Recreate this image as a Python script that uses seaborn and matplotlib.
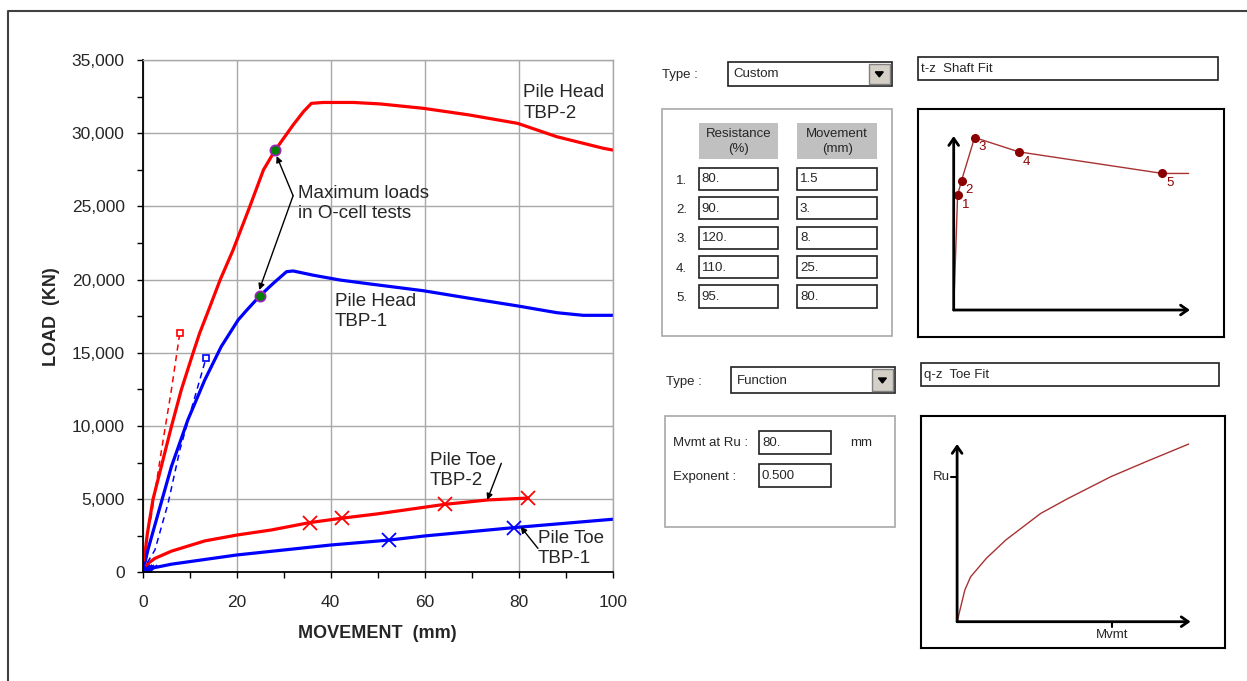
import matplotlib
matplotlib.use("Agg")
import matplotlib.pyplot as plt
from matplotlib.patches import Rectangle, Polygon
from matplotlib.ticker import MultipleLocator, FuncFormatter
import seaborn as sns

# ---- main chart data: movement (mm) vs load (kN) ----
head_tbp2_mm = [0, 1.0, 2.2, 6.1, 8.2, 10.7, 12.1, 14.0, 16.5, 19.2, 22.8, 25.7, 28.2,
                32.0, 34.2, 35.9, 38.4, 44.8, 50.5, 59.7, 69.6, 79.8, 88.1, 98.0, 100]
head_tbp2_kn = [0, 2670, 5000, 9950, 12460, 14970, 16330, 17900, 20000, 22000, 25000, 27500, 28850,
                30560, 31470, 32040, 32100, 32100, 32000, 31700, 31240, 30670, 29760, 28970, 28850]

head_tbp1_mm = [0, 1.1, 3.3, 6.1, 9.6, 13.2, 16.7, 20.3, 22.1, 24.9, 27.8, 30.6, 32.0,
                36.3, 42.0, 48.4, 59.7, 69.6, 79.8, 88.1, 93.7, 100]
head_tbp1_kn = [0, 1530, 4040, 7220, 10410, 13140, 15420, 17240, 17900, 18880, 19750, 20540, 20590,
                20300, 19970, 19700, 19240, 18720, 18200, 17740, 17560, 17560]

test_tbp2_mm = [0, 1.0, 1.8, 4.0, 6.1, 7.9]
test_tbp2_kn = [0, 2700, 3800, 8360, 12460, 16370]
test_tbp1_mm = [0, 0.3, 2.6, 5.4, 7.9, 10.3, 13.5]
test_tbp1_kn = [0, 300, 1530, 4720, 8360, 11090, 14670]

toe_tbp2_mm = [0, 1.1, 2.55, 6.1, 13.2, 20.0, 27.4, 35.5, 42.3, 50.0, 64.3, 73.5, 82.0]
toe_tbp2_kn = [0, 600, 950, 1450, 2150, 2550, 2900, 3400, 3700, 4000, 4650, 4950, 5080]
toe_tbp1_mm = [0, 1.8, 6.1, 20.0, 40.0, 52.5, 60.0, 79.0, 100]
toe_tbp1_kn = [0, 280, 560, 1190, 1870, 2210, 2490, 3060, 3630]

toe_tbp2_x_mm = [0, 0.4, 35.5, 42.3, 64.3, 82.0]
toe_tbp2_x_kn = [0, 0, 3400, 3700, 4650, 5080]
toe_tbp1_x_mm = [0, 0.5, 1.0, 1.5, 52.5, 79.0]
toe_tbp1_x_kn = [0, 0, 0, 0, 2210, 3060]

max_load_mm = [28.2, 24.9]
max_load_kn = [28850, 18880]

# ---- form panel data ----
shaft_resistance = [80, 90, 120, 110, 95]   # %
shaft_movement = [1.5, 3, 8, 25, 80]        # mm
shaft_end_mm = 90
toe_mvmt_at_ru = 80.
toe_exponent = 0.500
toe_curve_mm = [0, 4.0, 7.0, 15.1, 25.1, 43.2, 57.3, 79.4, 97.5, 119.6]
toe_curve_ru = [0, 0.219, 0.310, 0.437, 0.563, 0.747, 0.850, 1.0, 1.103, 1.225]

sns.set_style("white")
plt.rcParams["font.family"] = ["Liberation Sans", "DejaVu Sans"]

W, H = 1247, 681
fig = plt.figure(figsize=(W / 100, H / 100), dpi=100)


def box(x0, y0, x1, y1):
    return [x0 / W, 1 - y1 / H, (x1 - x0) / W, (y1 - y0) / H]


# overlay in pixel units for the frame and the form widgets
ui = fig.add_axes([0, 0, 1, 1])
ui.set_xlim(0, W)
ui.set_ylim(H, 0)
ui.axis("off")
ui.plot([8, 8, W + 5], [H + 5, 11, 11], color="#404040", lw=1.5)

# ---------------- main load-movement chart ----------------
ax = fig.add_axes(box(142.7, 60, 612.7, 572.4))
red, blue = "#ff0000", "#0000ff"
curves = [
    (head_tbp2_mm, head_tbp2_kn, red, "-", 2.3),
    (head_tbp1_mm, head_tbp1_kn, blue, "-", 2.3),
    (toe_tbp2_mm, toe_tbp2_kn, red, "-", 2.3),
    (toe_tbp1_mm, toe_tbp1_kn, blue, "-", 2.3),
    (test_tbp2_mm, test_tbp2_kn, red, (0, (4, 3)), 1.1),
    (test_tbp1_mm, test_tbp1_kn, blue, (0, (4, 3)), 1.1),
]
for xs, ys, c, ls, lw in curves:
    sns.lineplot(x=xs, y=ys, color=c, linestyle=ls, lw=lw, sort=False,
                 estimator=None, ax=ax)

ax.plot(test_tbp2_mm[-1:], test_tbp2_kn[-1:], "s", ms=5, mfc="white", mec=red, mew=1.2)
ax.plot(test_tbp1_mm[-1:], test_tbp1_kn[-1:], "s", ms=5, mfc="white", mec=blue, mew=1.2)
ax.plot(toe_tbp2_x_mm, toe_tbp2_x_kn, "x", ms=10, mec=red, mew=1.3, ls="none")
ax.plot(toe_tbp1_x_mm, toe_tbp1_x_kn, "x", ms=10, mec=blue, mew=1.3, ls="none")
sns.scatterplot(x=max_load_mm, y=max_load_kn, color="#008000", edgecolor="#a020c0",
                s=55, linewidth=1.2, zorder=5, ax=ax)

ax.set_xlim(0, 100)
ax.set_ylim(0, 35000)
ax.xaxis.set_major_locator(MultipleLocator(20))
ax.xaxis.set_minor_locator(MultipleLocator(10))
ax.yaxis.set_major_locator(MultipleLocator(5000))
ax.yaxis.set_minor_locator(MultipleLocator(2500))
ax.yaxis.set_major_formatter(FuncFormatter(lambda v, p: f"{v:,.0f}"))
ax.grid(True, which="major", color="#a8a8a8", lw=1)
ax.set_axisbelow(True)
ax.tick_params(which="both", direction="out", length=4, width=1, color="black",
               labelsize=12.5, left=True, bottom=True)
ax.tick_params(axis="y", pad=9)
ax.tick_params(axis="x", pad=12)
for side in ["left", "bottom"]:
    ax.spines[side].set_color("black")
    ax.spines[side].set_linewidth(1.3)
for side in ["top", "right"]:
    ax.spines[side].set_color("#a8a8a8")
    ax.spines[side].set_linewidth(1)

ax.set_xlabel("MOVEMENT  (mm)", fontsize=13, fontweight="bold")
ax.set_ylabel("LOAD  (KN)", fontsize=13, fontweight="bold")
ax.xaxis.set_label_coords(0.5, -0.119)
ax.xaxis.label.set_va("center")
ax.yaxis.set_label_coords(-0.193, 0.5)
ax.yaxis.label.set_va("center")

lab = dict(fontsize=13.5, va="center", ha="left", linespacing=1.25)
ax.text(81.0, 32070, "Pile Head\nTBP-2", **lab)
ax.text(40.9, 17800, "Pile Head\nTBP-1", **lab)
ax.text(61.1, 6940, "Pile Toe\nTBP-2", **lab)
ax.text(84.1, 1620, "Pile Toe\nTBP-1", **lab)
ax.text(33.1, 25180, "Maximum loads\nin O-cell tests", **lab)

arrow = dict(arrowstyle="-|>", color="black", lw=1, mutation_scale=9,
             shrinkA=0, shrinkB=0)
ax.annotate("", xy=(28.5, 28440), xytext=(32.0, 25730), arrowprops=arrow)
ax.annotate("", xy=(24.8, 19290), xytext=(32.0, 25730), arrowprops=arrow)
ax.annotate("", xy=(73.3, 4950), xytext=(76.3, 7450), arrowprops=arrow)
ax.annotate("", xy=(80.4, 3120), xytext=(84.1, 1640), arrowprops=arrow)

# ---------------- form widgets ----------------
ui_font = 9.5


def field(x0, y0, x1, y1, label, ec="#202020", fc="white", pad=3):
    ui.add_patch(Rectangle((x0, y0), x1 - x0, y1 - y0, fc=fc, ec=ec, lw=1.2))
    if label:
        ui.text(x0 + pad, (y0 + y1) / 2 + 0.5, label, va="center", ha="left", fontsize=ui_font)


def dropdown(x0, y0, x1, y1, label):
    field(x0, y0, x1, y1, label, pad=5)
    bx = x1 - 23
    ui.add_patch(Rectangle((bx, y0 + 2), 21, y1 - y0 - 4, fc="#d4d0c8", ec="#808080", lw=1))
    cx, cy = bx + 10.5, (y0 + y1) / 2
    ui.add_patch(Polygon([[cx - 4, cy - 2], [cx + 4, cy - 2], [cx, cy + 3]], closed=True,
                         fc="black", ec="black"))


def fmt(v):
    return f"{v:g}." if float(v).is_integer() else f"{v:g}"


# t-z shaft section
ui.text(661.6, 75, "Type :", va="center", fontsize=ui_font)
dropdown(728.2, 61.7, 891.8, 86, "Custom")
field(917.6, 57.3, 1218.4, 80, "t-z  Shaft Fit")
field(661.6, 109, 892.2, 336, None, ec="#a8a8a8")
ui.add_patch(Rectangle((698.8, 123.3), 79.2, 36, fc="#c0c0c0", ec="none"))
ui.add_patch(Rectangle((796.9, 123.3), 80.4, 36, fc="#c0c0c0", ec="none"))
ui.text(738.4, 141.3, "Resistance\n(%)", ha="center", va="center", fontsize=ui_font, linespacing=1.3)
ui.text(837.1, 141.3, "Movement\n(mm)", ha="center", va="center", fontsize=ui_font, linespacing=1.3)
for i, (r, m) in enumerate(zip(shaft_resistance, shaft_movement)):
    y0 = 167.7 + i * 29.4
    ui.text(676, y0 + 13, f"{i + 1}.", va="center", fontsize=ui_font)
    field(698.8, y0, 778, y0 + 22.3, fmt(r))
    field(796.9, y0, 877.3, y0 + 22.3, fmt(m))

# q-z toe section
ui.text(666, 381.7, "Type :", va="center", fontsize=ui_font)
dropdown(731.4, 367.3, 894.9, 392.7, "Function")
field(921, 363.3, 1219, 386, "q-z  Toe Fit")
field(665.3, 416, 894.9, 527.3, None, ec="#a8a8a8")
ui.text(673, 442.7, "Mvmt at Ru :", va="center", fontsize=ui_font)
field(759, 431, 831, 454, fmt(toe_mvmt_at_ru))
ui.text(850, 443.3, "mm", va="center", fontsize=ui_font)
ui.text(673, 476.7, "Exponent :", va="center", fontsize=ui_font)
field(759, 464.3, 831, 487.3, f"{toe_exponent:.3f}")

axis_arrow = dict(arrowstyle="->,head_length=0.5,head_width=0.35", color="black", lw=2,
                  shrinkA=0, shrinkB=0)
curve_red = "#a83232"
dot_red = "#8b0000"

# t-z mini plot
tz = fig.add_axes(box(917.6, 109, 1224.3, 336.7))
tz.set_xlim(-13.83, 103.68)
tz.set_ylim(-18.57, 139.83)
tz.annotate("", xy=(0, 121), xytext=(0, 0), arrowprops=axis_arrow)
tz.annotate("", xy=(90.5, 0), xytext=(0, 0), arrowprops=axis_arrow)
sns.lineplot(x=[0] + shaft_movement + [shaft_end_mm], y=[0] + shaft_resistance + [shaft_resistance[-1]],
             color=curve_red, lw=1, sort=False, estimator=None, ax=tz)
tz.plot(shaft_movement, shaft_resistance, "o", ms=5.5, color=dot_red, ls="none")
for i, (m, r) in enumerate(zip(shaft_movement, shaft_resistance)):
    tz.annotate(str(i + 1), (m, r), xytext=(3, -7), textcoords="offset points",
                color=dot_red, fontsize=9.5, ha="left", va="center")

# q-z mini plot
qz = fig.add_axes(box(921, 416, 1224.8, 648.3))
qz.set_xlim(-18.65, 138.27)
qz.set_ylim(-0.1834, 1.4186)
qz.annotate("", xy=(0, 1.2255), xytext=(0, 0), arrowprops=axis_arrow)
qz.annotate("", xy=(120.6, 0), xytext=(0, 0), arrowprops=axis_arrow)
sns.lineplot(x=toe_curve_mm, y=toe_curve_ru, color=curve_red, lw=1, sort=False,
             estimator=None, ax=qz)
qz.plot([-3, 0], [1, 1], color="black", lw=1.5)
qz.text(-3.5, 1.0, "Ru", ha="right", va="center", fontsize=ui_font)
qz.plot([toe_mvmt_at_ru, toe_mvmt_at_ru], [0, -0.035], color="black", lw=1.5)
qz.text(toe_mvmt_at_ru, -0.092, "Mvmt", ha="center", va="center", fontsize=ui_font)

for inset in (tz, qz):
    inset.set_xticks([])
    inset.set_yticks([])
    for s in inset.spines.values():
        s.set_color("black")
        s.set_linewidth(1.5)
        s.set_visible(True)

fig.savefig("out.png", dpi=100)
